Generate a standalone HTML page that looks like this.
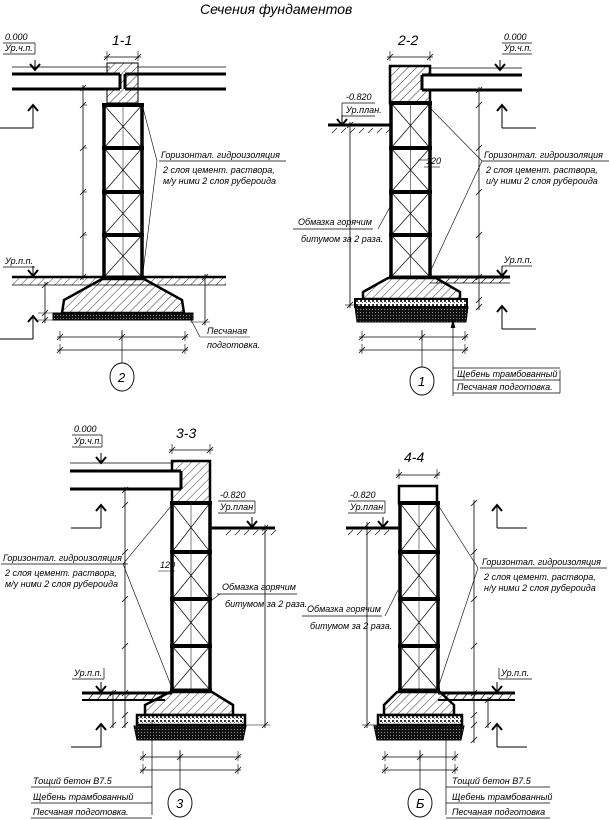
<!DOCTYPE html>
<html><head><meta charset="utf-8">
<style>
html,body{margin:0;padding:0;background:#fff;}
svg{display:block;}
text{font-family:"Liberation Sans Narrow","Liberation Sans",sans-serif;font-size:9px;fill:#000;font-style:italic;}
</style></head>
<body>
<svg id="s" xmlns="http://www.w3.org/2000/svg" width="609" height="820" viewBox="0 0 609 820">
<defs>
<pattern id="h" width="6" height="6" patternUnits="userSpaceOnUse" patternTransform="rotate(45)"><line x1="0" y1="0" x2="0" y2="6" stroke="#000" stroke-width="0.8"/></pattern>
<pattern id="g" width="4" height="4" patternUnits="userSpaceOnUse"><rect width="4" height="4" fill="#fff"/><rect width="2" height="2" fill="#333"/><rect x="2" y="2" width="1" height="1" fill="#666"/></pattern>
<pattern id="d" width="3" height="3" patternUnits="userSpaceOnUse"><rect width="3" height="3" fill="#111"/><rect width="1" height="1" fill="#888"/></pattern>
</defs>
<text x="200" y="14" style="font-size:14px">Сечения фундаментов</text>
</svg>
<script>
const S=document.getElementById('s');const NS='http://www.w3.org/2000/svg';
function el(t,a,txt){const e=document.createElementNS(NS,t);for(const k in a)e.setAttribute(k,a[k]);if(txt)e.textContent=txt;S.appendChild(e);return e;}
function L(x1,y1,x2,y2,w){el('line',{x1,y1,x2,y2,stroke:'#000','stroke-width':w||0.8});}
function R(x,y,w,h,f,sw){el('rect',{x,y,width:w,height:h,fill:f||'none',stroke:'#000','stroke-width':sw||0.8});}
function P(pts,f,sw){el('polygon',{points:pts,fill:f||'none',stroke:'#000','stroke-width':sw||2.5});}
function T(x,y,s,sz,u){const e=el('text',{x,y},s);if(sz)e.style.fontSize=sz+'px';}
function tick(x,y){L(x-3,y+3,x+3,y-3,0.8);}
function vdim(x,ys,x0){L(x,ys[0]-3,x,ys[ys.length-1]+3);ys.forEach(y=>{tick(x,y);if(x0!==undefined)L(x0,y,x+4,y,0.6);});}
function hdim(y,xs){L(xs[0]-3,y,xs[xs.length-1]+3,y);xs.forEach(x=>{tick(x,y);L(x,y-6,x,y+4,0.6);});}
function col(x1,x2,ys,thick){const y0=ys[0],y1=ys[ys.length-1];
 for(let i=0;i<ys.length-1;i++){L(x1,ys[i],x2,ys[i+1],0.7);L(x2,ys[i],x1,ys[i+1],0.7);}
 L(x1,y0,x1,y1,3.5);L(x2,y0,x2,y1,3.5);for(let i=0;i<ys.length-1;i++)L(x1-2,ys[i],x2+2,ys[i],4);L(x1-2,y1,x2+2,y1,3);
 const m=(x1+x2)/2;L(m,y0,m,y1,0.5);}
function arrowDown(x,y){L(x,y-10,x,y,1);el('polyline',{points:`${x-5},${y-6} ${x},${y} ${x+5},${y-6}`,fill:'none',stroke:'#000','stroke-width':2});}
function secArrow(x,y,dir,len){el('polyline',{points:`${x-5},${y+6} ${x},${y} ${x+5},${y+6}`,fill:'none',stroke:'#000','stroke-width':2});L(x,y,x,y+23,1);L(x,y+23,x+dir*len,y+23,1);}
function circ(x,y,t){el('ellipse',{cx:x,cy:y,rx:12,ry:14,fill:'#fff',stroke:'#000','stroke-width':0.9});T(x-4,y+5,t,13);}
function lab(x,y,a,b){T(x,y,a);L(x-2,y+3,x+32,y+3,0.7);T(x,y+12,b);}
function ground(x1,x2,y,hatchBelow){L(x1,y,x2,y,3);if(hatchBelow){for(let x=x1+4;x<x2;x+=8)L(x,y+7,x+5,y+2,0.6);}}
function gidro(x,y,t3){T(x,y,'Горизонтал. гидроизоляция');L(x-2,y+3,x+125,y+3,0.7);T(x+2,y+15,'2 слоя цемент. раствора,');T(x+2,y+26,t3);}
function bitum(x,y){T(x,y,'Обмазка горячим');L(x-5,y+4,x+75,y+4,0.7);T(x+3,y+17,'битумом за 2 раза.');}

/* ===== 1-1 ===== */
T(112,45,'1-1',14);
hdim(57,[107,138]);
el('rect',{x:107,y:63,width:31,height:40,fill:'url(#h)',stroke:'#000','stroke-width':1});
L(12,67,110,67,0.7);L(138,67,226,67,0.7);
el('rect',{x:12,y:74,width:108,height:15,fill:'#fff',stroke:'none'});
L(12,74,120,74,3);L(12,89,120,89,3);L(120,74,120,89,3);
L(125,74,226,74,3);L(125,89,226,89,3);L(125,74,125,89,3);
col(104,142,[105,148,192,235,277]);
el('rect',{x:12,y:277,width:214,height:8,fill:'url(#h)',stroke:'none'});L(12,277,226,277,2.5);L(12,285,226,285,0.8);
el('polygon',{points:'102,279 144,279 182,300 184,313 62,313 64,300',fill:'url(#h)',stroke:'#000','stroke-width':2.5});
el('rect',{x:53,y:313,width:140,height:7,fill:'url(#d)',stroke:'#000','stroke-width':1});
vdim(83,[88,105,148,192,235,277],83);
vdim(45,[285,313,320]);L(38,313,60,313,0.6);L(38,320,55,320,0.6);
vdim(205,[277,322]);L(190,322,210,322,0.6);
hdim(337,[60,122,185]);hdim(350,[60,185]);
L(122,330,122,365,0.7);circ(122,377,'2');
T(5,40,'0.000');L(3,43,35,43,0.7);T(5,51,'Ур.ч.п.');L(3,54,35,54,0.7);L(35,43,35,54,0.7);arrowDown(35,70);
T(5,264,'Ур.п.п.');L(3,267,35,267,0.7);arrowDown(33,276);
secArrow(33,105,-1,34);secArrow(33,316,-1,34);
gidro(161,158,'м/у ними 2 слоя рубероида');L(157,161,143,108,0.6);L(157,161,143,272,0.6);
T(207,334,'Песчаная');L(200,337,250,337,0.6);T(207,348,'подготовка.');L(190,318,200,337,0.6);

/* ===== 2-2 ===== */
T(398,45,'2-2',14);
hdim(57,[390,430]);
el('rect',{x:390,y:66,width:40,height:37,fill:'url(#h)',stroke:'#000','stroke-width':2.5});
L(430,68,522,68,0.7);
el('rect',{x:422,y:75,width:100,height:15,fill:'#fff',stroke:'none'});
L(422,75,522,75,3);L(422,90,522,90,3);L(422,75,422,90,3);
col(391,430,[103,148,192,235,277]);
L(328,125,391,125,3);for(let x=332;x<388;x+=9)L(x,133,x+5,128,0.6);
L(430,277,510,277,3);L(430,283,510,283,0.8);for(let x=436;x<505;x+=9)L(x,283,x+5,278,0.6);
el('polygon',{points:'388,278 436,278 460,292 460,299 363,299 363,292',fill:'url(#h)',stroke:'#000','stroke-width':2.5});
el('rect',{x:355,y:299,width:112,height:8,fill:'url(#g)',stroke:'#000','stroke-width':2});
el('polygon',{points:'355,307 468,307 466,322 357,322',fill:'url(#d)',stroke:'#000','stroke-width':1});
vdim(479,[90,105,148,192,235,277,300,307]);
vdim(350,[125,305]);L(345,305,360,305,0.6);
hdim(337,[362,422,465]);hdim(350,[362,465]);
L(422,330,422,368,0.7);circ(422,381,'1');
T(504,40,'0.000');L(502,43,532,43,0.7);T(504,51,'Ур.ч.п.');L(502,54,532,54,0.7);arrowDown(500,70);
T(346,100,'-0.820');L(342,103,375,103,0.7);T(346,113,'Ур.план.');L(342,116,375,116,0.7);L(342,103,342,116,0.7);arrowDown(342,125);
T(504,263,'Ур.п.п.');L(502,266,532,266,0.7);arrowDown(502,276);
secArrow(502,105,1,34);secArrow(502,306,1,34);
T(426,164,'120');L(424,167,440,167,0.6);L(418,160,428,160,0.6);
gidro(484,158,'и/у ними 2 слоя рубероида');L(482,161,430,108,0.6);L(482,161,430,272,0.6);
bitum(298,225);L(378,229,391,205,0.6);
L(453,320,453,396,0.7);el('polyline',{points:'451,328 453,320 455,328',fill:'#000',stroke:'#000','stroke-width':0.6});
T(457,377,'Щебень трамбованный');L(453,380,560,380,0.7);T(457,390,'Песчаная подготовка.');L(453,393,560,393,0.7);L(560,370,560,393,0.7);L(453,368,560,368,0.7);

/* ===== 3-3 ===== */
T(176,438,'3-3',14);
hdim(450,[172,210]);
el('rect',{x:172,y:461,width:38,height:42,fill:'url(#h)',stroke:'#000','stroke-width':2.5});
L(70,463,172,463,0.7);
el('rect',{x:70,y:471,width:110,height:18,fill:'#fff',stroke:'none'});
L(70,471,181,471,3);L(70,489,181,489,3);L(181,471,181,489,3);
col(172,210,[503,552,599,646,690]);
L(210,528,275,528,3);for(let x=226;x<275;x+=9)L(x,535,x+5,530,0.6);
L(82,693,172,693,3);L(82,700,165,700,2);for(let x=88;x<165;x+=9)L(x,700,x+5,694,0.6);
el('polygon',{points:'170,692 212,692 233,705 233,715 145,715 145,705',fill:'url(#h)',stroke:'#000','stroke-width':2.5});
el('rect',{x:137,y:715,width:108,height:10,fill:'url(#g)',stroke:'#000','stroke-width':2.5});
el('polygon',{points:'134,726 246,726 243,740 137,740',fill:'url(#d)',stroke:'#000','stroke-width':1});
vdim(125,[490,505,552,599,646,693,715,725]);
vdim(265,[528,725]);L(245,725,270,725,0.6);
vdim(113,[693,725]);
hdim(757,[143,180,238]);hdim(770,[143,238]);
L(180,750,180,790,0.7);circ(180,803,'3');
T(74,432,'0.000');L(72,435,102,435,0.7);T(74,444,'Ур.ч.п.');L(72,447,102,447,0.7);L(102,435,102,447,0.7);arrowDown(101,463);
T(220,498,'-0.820');L(218,501,255,501,0.7);T(220,510,'Ур.план');L(218,513,255,513,0.7);L(255,501,255,513,0.7);arrowDown(252,527);
T(74,676,'Ур.п.п.');L(72,679,104,679,0.7);L(104,668,104,679,0.7);arrowDown(101,692);
secArrow(101,505,-1,30);secArrow(101,724,-1,30);
T(160,568,'120');L(158,571,175,571,0.6);
gidro(3,561,'м/у ними 2 слоя рубероида');L(123,564,172,505,0.6);L(123,564,172,688,0.6);
bitum(222,590);L(220,594,212,600,0.6);
L(152,720,152,815,0.7);
T(33,784,'Тощий бетон В7.5');L(31,787,152,787,0.7);T(33,800,'Щебень трамбованный');L(31,803,152,803,0.7);T(33,815,'Песчаная подготовка.');L(31,818,152,818,0.7);

/* ===== 4-4 ===== */
T(404,462,'4-4',14);
hdim(475,[399,437]);
el('rect',{x:399,y:486,width:38,height:17,fill:'#fff',stroke:'#000','stroke-width':2.5});
col(400,438,[503,552,599,646,690]);
L(346,528,400,528,3);for(let x=348;x<392;x+=9)L(x,535,x+5,530,0.6);
L(438,693,515,693,3);L(438,700,515,700,2);for(let x=444;x<510;x+=9)L(x,700,x+5,694,0.6);
el('polygon',{points:'397,692 440,692 454,705 454,715 384,715 384,705',fill:'url(#h)',stroke:'#000','stroke-width':2.5});
el('rect',{x:378,y:715,width:84,height:10,fill:'url(#g)',stroke:'#000','stroke-width':2.5});
el('polygon',{points:'374,726 464,726 461,740 377,740',fill:'url(#d)',stroke:'#000','stroke-width':1});
vdim(474,[503,552,599,646,693,715,725,740]);
vdim(367,[525,725]);L(362,725,378,725,0.6);
vdim(488,[700,725]);
hdim(757,[385,420,455]);hdim(770,[385,455]);
L(420,750,420,790,0.7);circ(420,803,'Б');
T(350,498,'-0.820');L(348,501,385,501,0.7);T(350,510,'Ур.план');L(348,513,385,513,0.7);L(385,501,385,513,0.7);arrowDown(383,527);
T(501,676,'Ур.п.п.');L(499,679,532,679,0.7);L(499,668,499,679,0.7);arrowDown(497,692);
secArrow(497,505,1,30);secArrow(497,724,1,30);
gidro(482,565,'н/у ними 2 слоя рубероида');L(478,568,438,505,0.6);L(478,568,438,688,0.6);
bitum(307,612);L(385,616,398,590,0.6);
L(446,735,446,815,0.7);
T(452,784,'Тощий бетон В7.5');L(446,787,550,787,0.7);T(452,800,'Щебень трамбованный');L(446,803,550,803,0.7);T(452,815,'Песчаная подготовка');L(446,818,550,818,0.7);
</script>
</body></html>
